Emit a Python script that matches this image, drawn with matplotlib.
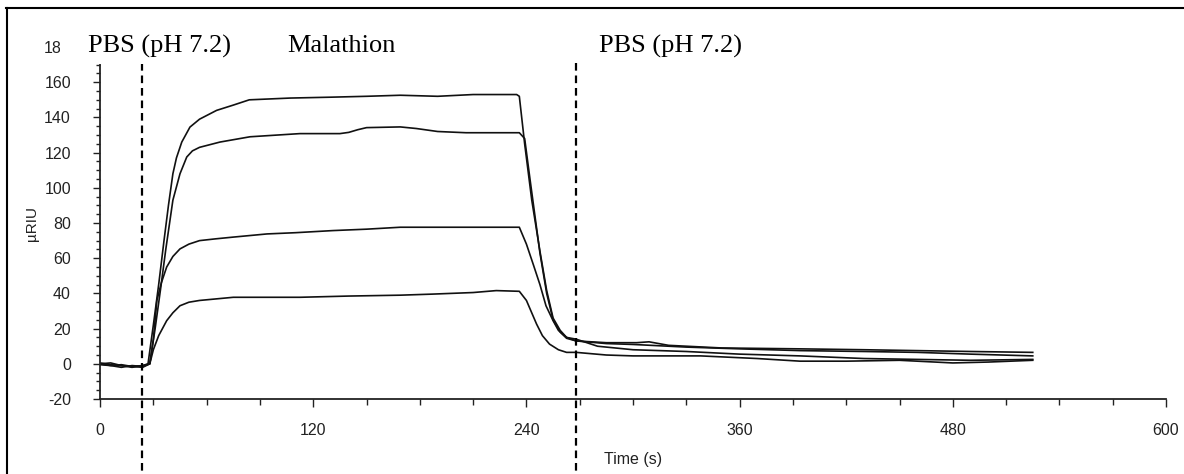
import matplotlib
matplotlib.use('Agg')
import matplotlib.pyplot as plt
from matplotlib.lines import Line2D
from matplotlib.patches import Rectangle
from matplotlib.ticker import MultipleLocator

# Sensorgram curves (time in s, response in µRIU)
t_a = [0, 6, 12, 18, 24, 27, 30, 33, 36, 38.5, 41, 43, 46, 50.6, 56, 65.6, 75, 84, 107, 130, 150, 169,
       190, 210, 234.5, 236, 239, 243, 247.6, 251.4, 255, 259, 262.6, 268,
       285, 300, 330, 360, 394, 430, 460, 490, 525]
v_a = [0.5, -0.5, -1, -2, -1, 0, 22, 45, 70, 90, 108, 117, 126, 134.5, 139, 144, 147, 150, 151, 151.5, 152, 152.6,
       152, 153, 153, 152, 125, 93, 64, 41.6, 26, 19, 15, 13,
       11.5, 11, 9.5, 8.5, 7.5, 7, 6.5, 5.5, 4.5]

t_b = [0, 6, 12, 18, 24, 28, 31, 34, 37, 41, 45, 48.8, 52, 56, 67.5, 84.4, 112.5, 135, 140, 145, 150, 169,
       178, 190, 206, 236, 239, 242, 244, 247.6, 251.4, 255, 259, 262.6, 268,
       285, 302, 309, 320, 350, 394, 430, 460, 490, 525]
v_b = [0, 0.5, -1, -1.5, -2, 0, 20, 42, 65, 93, 108, 117.5, 121, 123, 126, 129, 130.8, 130.8, 131.5, 133, 134.2, 134.6,
       133.7, 132, 131.3, 131.3, 128, 105, 90, 63, 40, 25, 18, 14.5, 13,
       12, 12, 12.5, 10.5, 9, 8.5, 8, 7.5, 7, 6.5]

t_c = [0, 6, 12, 18, 24, 28, 30, 32, 34.5, 37.5, 41, 45, 50, 56, 65, 75, 94, 110, 131, 150, 169,
       200, 236, 240, 244, 247.6, 251, 255, 258, 262.6, 268,
       280, 300, 330, 360, 394, 430, 460, 490, 525]
v_c = [-0.5, -1, -2, -1, -1.5, 0, 14, 36, 46, 55, 61, 65.3, 68, 70, 71, 72, 73.8, 74.5, 75.7, 76.5, 77.6,
       77.6, 77.6, 68, 56, 45, 33, 24.5, 19, 15, 14,
       10, 8, 7, 5.5, 4.5, 3, 2.5, 2, 2.5]

t_d = [0, 6, 12, 18, 24, 28, 30, 33, 37.5, 41, 45, 50, 56, 75, 112.5, 140, 169,
       187, 210, 223, 236, 240, 245.7, 249, 253, 258, 262.6, 268,
       285, 300, 338, 370, 394, 420, 450, 480, 500, 525]
v_d = [0, -1, -0.5, -1.5, -1, 0, 8, 16, 24.5, 29, 33, 35, 36, 37.8, 37.8, 38.5, 39,
       39.6, 40.5, 41.6, 41.2, 36, 22.6, 16, 11.2, 8, 6.5, 6.5,
       5, 4.5, 4.5, 3, 1.5, 1.5, 2, 0.5, 1, 2]

curves = [(t_a, v_a), (t_b, v_b), (t_c, v_c), (t_d, v_d)]

# injection / buffer switch times and phase labels
switch_t = [23.6, 267.7]
phase_labels = ['PBS (pH 7.2)', 'Malathion', 'PBS (pH 7.2)']
phase_t = [-6.8, 105.2, 280.8]
phase_y = 177

plt.rcParams['font.family'] = ['Liberation Sans', 'DejaVu Sans']
plt.rcParams['lines.scale_dashes'] = False
plt.rcParams['axes.unicode_minus'] = False

fig = plt.figure(figsize=(11.84, 4.74), dpi=100)
ax = fig.add_axes([0.0845, 0.1582, 0.9003, 0.7426])

for t, v in curves:
    ax.plot(t, v, color='#111111', lw=1.2)

for x in switch_t:
    ax.plot([x, x], [0.955, -0.22], transform=ax.get_xaxis_transform(), clip_on=False,
            color='black', lw=1.6, dashes=(5.5, 3.5))

ax.set_xlim(0, 600)
ax.set_ylim(-20, 180)
ax.xaxis.set_major_locator(MultipleLocator(120))
ax.xaxis.set_minor_locator(MultipleLocator(30))
ax.yaxis.set_major_locator(MultipleLocator(20))
ax.yaxis.set_minor_locator(MultipleLocator(5))

for s in ['top', 'right']:
    ax.spines[s].set_visible(False)
for s in ['left', 'bottom']:
    ax.spines[s].set_linewidth(1.3)
    ax.spines[s].set_color('#222222')

ax.tick_params(axis='y', which='major', length=5, width=1, pad=16, labelsize=11.5, colors='#222222')
ax.tick_params(axis='y', which='minor', length=3, width=1, colors='#222222')
ax.tick_params(axis='x', which='major', length=6, width=1, pad=11, labelsize=11.5, colors='#222222')
ax.tick_params(axis='x', which='minor', length=4, width=1, colors='#222222')

ax.set_xlabel('Time (s)', fontsize=11.5, labelpad=10, color='#222222')
ax.set_ylabel('µRIU', fontsize=11, labelpad=4, color='#222222')

# white box behind the first label (hides top of the axis)
W, H = 1184, 474
fig.patches.append(Rectangle((60 / W, 1 - 64 / H), 185 / W, 50 / H, transform=fig.transFigure,
                             facecolor='white', edgecolor='none', zorder=2))

for lab, x in zip(phase_labels, phase_t):
    fig.text(x, phase_y, lab, transform=ax.transData, family='Liberation Serif', fontsize=19,
             ha='left', va='baseline', zorder=3)

# outer frame (top and left edges)
fig.add_artist(Line2D([6 / W, 1], [1 - 8 / H, 1 - 8 / H], transform=fig.transFigure, color='black', lw=1.5))
fig.add_artist(Line2D([7 / W, 7 / W], [0, 1 - 8 / H], transform=fig.transFigure, color='black', lw=1.5))

fig.savefig('out.png', dpi=100)
